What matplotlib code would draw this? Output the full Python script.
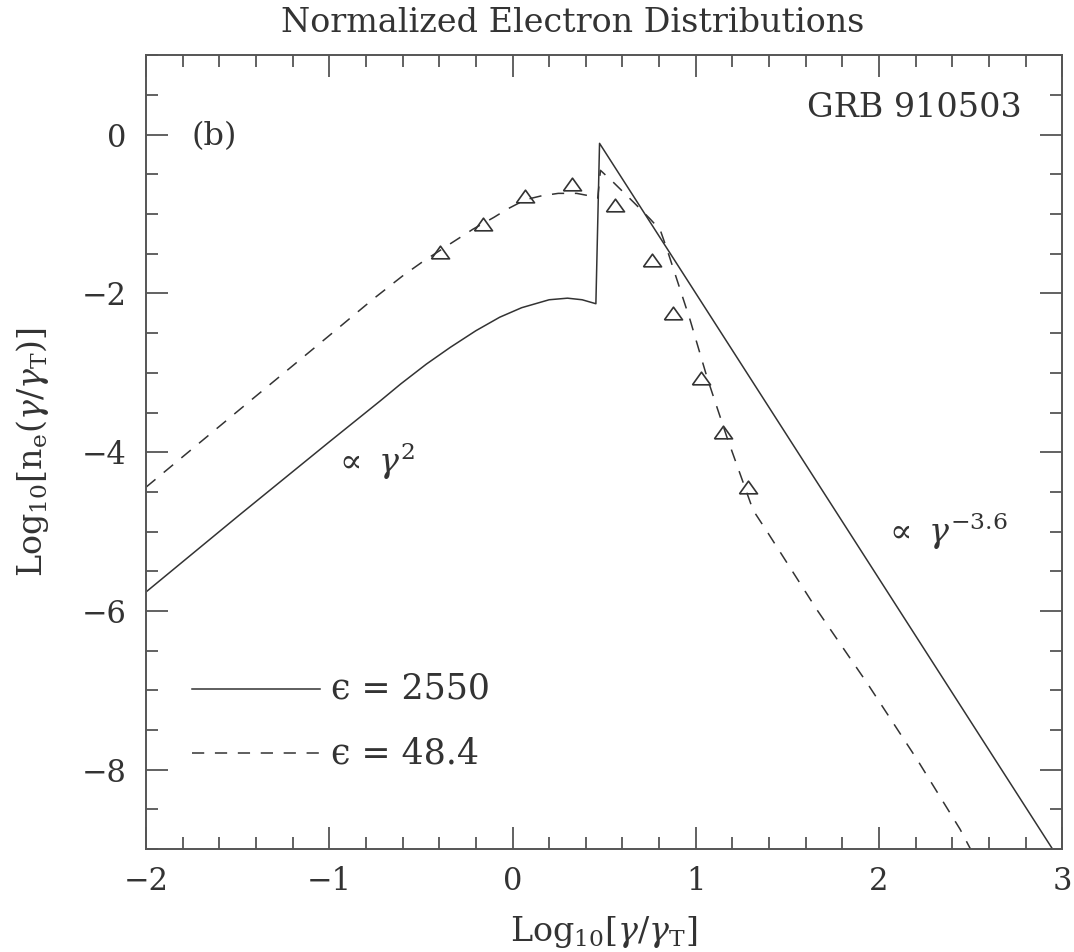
import matplotlib
matplotlib.use("Agg")
import matplotlib.pyplot as plt
from matplotlib.ticker import MultipleLocator

plt.rcParams['font.family'] = ['DejaVu Serif']
plt.rcParams['mathtext.fontset'] = 'dejavuserif'

# curve readings, log10(gamma/gamma_T) vs log10 n_e
solid_x = [-2.0, -1.49, -1.0, -0.72, -0.61, -0.47, -0.34, -0.2, -0.07, 0.05, 0.2, 0.3, 0.38,
           0.455, 0.475, 2.945]
solid_y = [-5.76, -4.79, -3.87, -3.35, -3.14, -2.89, -2.68, -2.47, -2.3, -2.18, -2.08, -2.06, -2.08,
           -2.13, -0.11, -8.99]

dash_x = [-2.0, -1.43, -1.01, -0.76, -0.6, -0.49, -0.35, -0.215, -0.1, -0.03, 0.07, 0.16, 0.25,
          0.35, 0.44, 0.465, 0.48, 0.55, 0.66, 0.75, 0.806, 0.844, 0.97, 1.062, 1.17, 1.313,
          1.395, 1.663, 1.936, 2.208, 2.443, 2.5]
dash_y = [-4.44, -3.35, -2.55, -2.07, -1.78, -1.6, -1.39, -1.19, -1.04, -0.94, -0.82, -0.77, -0.74,
          -0.74, -0.78, -0.8, -0.45, -0.6, -0.85, -1.06, -1.2, -1.45, -2.34, -3.06, -3.81, -4.73,
          -5.02, -5.99, -6.91, -7.87, -8.75, -9.0]

# data points (triangles)
obs_x = [-0.395, -0.16, 0.069, 0.325, 0.56, 0.762, 0.877, 1.03, 1.15, 1.286]
obs_y = [-1.48, -1.12, -0.77, -0.62, -0.89, -1.58, -2.25, -3.06, -3.75, -4.44]

legend_labels = ['ϵ = 2550', 'ϵ = 48.4']

line_col = '#333333'
axis_col = '#555555'
text_col = '#333333'

fig = plt.figure(figsize=(10.74, 9.52), dpi=100)
ax = fig.add_axes([0.136, 0.108, 0.853, 0.834])

ax.plot(solid_x, solid_y, color=line_col, lw=1.1)
ax.plot(dash_x, dash_y, color=line_col, lw=1.1, linestyle=(0, (8, 7)))

tri = [(-1.0, -0.7), (1.0, -0.7), (0.0, 0.7), (-1.0, -0.7)]
ax.plot(obs_x, obs_y, linestyle='none', marker=tri, markersize=13,
        markerfacecolor='none', markeredgecolor=line_col, markeredgewidth=1.2)

# legend drawn by hand like the original
ax.plot([-1.75, -1.05], [-6.98, -6.98], color=line_col, lw=1.1)
ax.plot([-1.75, -1.05], [-7.79, -7.79], color=line_col, lw=1.1, linestyle=(0, (8, 7)))
ax.text(-0.99, -6.98, legend_labels[0], fontsize=25, va='center', ha='left', color=text_col)
ax.text(-0.99, -7.79, legend_labels[1], fontsize=25, va='center', ha='left', color=text_col)

ax.text(-0.98, -4.12, r'$\propto\ \gamma^{2}$', fontsize=24, va='center', ha='left', color=text_col)
ax.text(2.02, -5.0, r'$\propto\ \gamma^{-3.6}$', fontsize=24, va='center', ha='left', color=text_col)
ax.text(-1.75, -0.03, '(b)', fontsize=23, va='center', ha='left', color=text_col)
ax.text(2.78, 0.34, 'GRB 910503', fontsize=24, va='center', ha='right', color=text_col)

ax.set_xlim(-2, 3)
ax.set_ylim(-9, 1)
ax.xaxis.set_major_locator(MultipleLocator(1))
ax.xaxis.set_minor_locator(MultipleLocator(0.2))
ax.yaxis.set_major_locator(MultipleLocator(2))
ax.yaxis.set_minor_locator(MultipleLocator(0.5))
ax.tick_params(which='both', direction='in', top=True, right=True, color=axis_col,
               labelsize=22, labelcolor=text_col)
ax.tick_params(which='major', length=16, width=1.3)
ax.tick_params(which='minor', length=8.5, width=1.3)
ax.tick_params(axis='x', which='major', pad=12)
ax.tick_params(axis='y', which='major', pad=14)
for sp in ax.spines.values():
    sp.set_color(axis_col)
    sp.set_linewidth(1.4)

ax.set_xlabel(r'Log$_{10}$[$\gamma$/$\gamma_{\rm T}$]', fontsize=24, color=text_col)
ax.xaxis.label.set_va('center')
ax.xaxis.set_label_coords(0.5, -0.104)
ax.set_ylabel(r'Log$_{10}$[n$_{\rm e}$($\gamma$/$\gamma_{\rm T}$)]', fontsize=24, color=text_col)
ax.yaxis.label.set_va('center')
ax.yaxis.set_label_coords(-0.124, 0.5)

fig.text(0.533, 0.976, 'Normalized Electron Distributions', fontsize=24,
         ha='center', va='center', color=text_col)

fig.savefig('out.png', dpi=100)
